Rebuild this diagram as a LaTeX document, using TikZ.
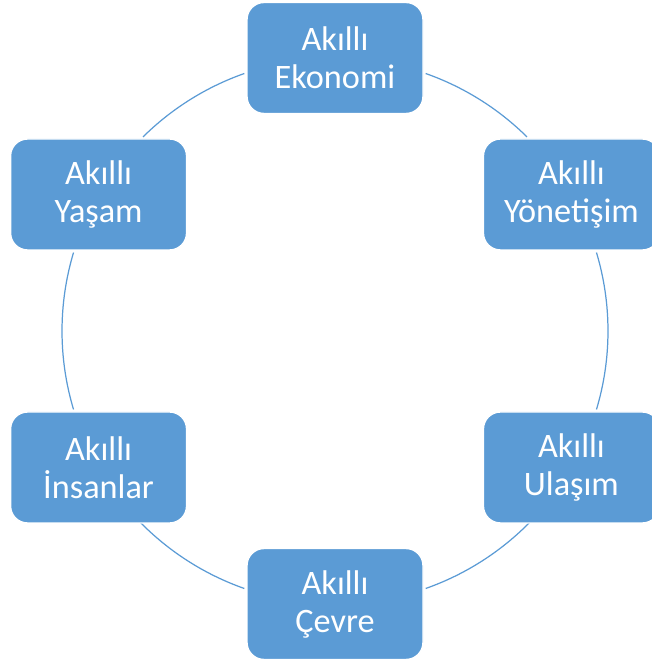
\documentclass[tikz,border=0pt]{standalone}
\usepackage{fontspec}
\setmainfont{Carlito}
\usepackage{tikz}
\usetikzlibrary{positioning,arrows.meta,calc}
\definecolor{akblue}{HTML}{5B9BD5}
\tikzset{
  akbox/.style={rectangle,rounded corners=0.34cm,fill=akblue,draw=white,line width=0.8pt,
    minimum width=3.52cm,minimum height=2.22cm,inner sep=0pt,align=center,
    text=white,font=\fontsize{19.5}{21.6}\selectfont},
  ring/.style={draw=akblue,line width=0.7pt},
}

\begin{document}
\begin{tikzpicture}
  \useasboundingbox (-6.70,-6.64) rectangle (6.32,6.62);
  % ring between the boxes
  \draw[ring] (45.3:5.46) arc (45.3:70.6:5.46);
  \draw[ring] (109.4:5.46) arc (109.4:134.7:5.46);
  \draw[ring] (163.3:5.46) arc (163.3:196.7:5.46);
  \draw[ring] (223.3:5.46) arc (223.3:250.6:5.46);
  \draw[ring] (289.4:5.46) arc (289.4:316.7:5.46);
  \draw[ring] (-16.7:5.46) arc (-16.7:16.7:5.46);
  % boxes
  \node[akbox] (ekonomi)   at (90:5.46)  {Akıllı\\Ekonomi};
  \node[akbox] (yonetisim) at (30:5.46)  {Akıllı\\Yönetişim};
  \node[akbox] (ulasim)    at (-30:5.46) {Akıllı\\Ulaşım};
  \node[akbox] (cevre)     at (-90:5.46) {Akıllı\\Çevre};
  \node[akbox] (insanlar)  at (210:5.46) {Akıllı\\İnsanlar};
  \node[akbox] (yasam)     at (150:5.46) {Akıllı\\Yaşam};
\end{tikzpicture}
\end{document}
